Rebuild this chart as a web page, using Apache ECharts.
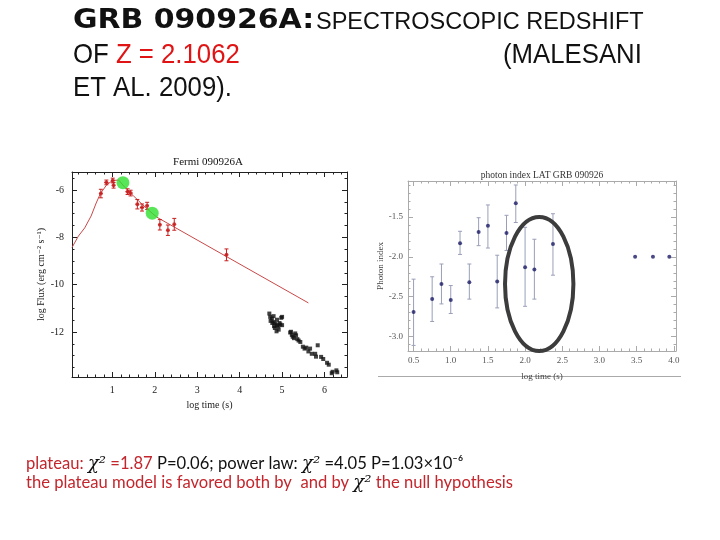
<!DOCTYPE html>
<html>
<head>
<meta charset="utf-8">
<script src="https://cdn.jsdelivr.net/npm/echarts@6/dist/echarts.min.js"></script>
</head>
<body style="margin:0;background:#fff">
<div id="main" style="width:720px;height:540px;"></div>
<script>
// ---- left panel: Fermi 090926A light curve ----
var fluxTime  = [0.73, 0.86, 1.01, 1.03, 1.36, 1.43, 1.59, 1.70, 1.82, 2.12, 2.31, 2.46, 3.69];
var fluxValue = [-6.15, -5.68, -5.60, -5.80, -6.07, -6.13, -6.60, -6.74, -6.67, -7.47, -7.70, -7.45, -8.74];
var fluxErr   = [0.18, 0.10, 0.10, 0.12, 0.12, 0.12, 0.20, 0.15, 0.15, 0.22, 0.22, 0.25, 0.25];
var timeErr   = [0.04, 0.05, 0.04, 0.04, 0.05, 0.05, 0.04, 0.05, 0.04, 0.04, 0.04, 0.03, 0.04];
var greenPts  = [[1.25, -5.69], [1.94, -6.98]];
var modelTime = [0.05, 0.2, 0.35, 0.5, 0.62, 0.72, 0.86, 1.0, 1.15, 1.3, 1.5, 1.7, 1.95, 2.05, 5.62];
var modelFlux = [-8.43, -7.95, -7.6, -7.1, -6.55, -6.15, -5.8, -5.6, -5.58, -5.9, -6.25, -6.6, -7.0, -7.15, -10.77];
var xrtPts = [
  [4.70,-11.22],[4.72,-11.36],[4.73,-11.53],[4.76,-11.43],[4.77,-11.62],[4.80,-11.57],[4.80,-11.33],
  [4.81,-11.75],[4.83,-11.83],[4.84,-11.64],[4.87,-11.97],[4.88,-11.71],[4.88,-11.48],[4.91,-11.76],
  [4.92,-11.90],[4.94,-11.62],[4.96,-11.68],[4.98,-11.40],[5.00,-11.71],[5.00,-11.36],[5.19,-12.02],
  [5.21,-11.99],[5.23,-12.12],[5.25,-12.20],[5.28,-12.26],[5.31,-12.06],[5.33,-12.14],[5.36,-12.30],
  [5.39,-12.36],[5.43,-12.42],[5.49,-12.62],[5.53,-12.70],[5.57,-12.66],[5.62,-12.82],[5.66,-12.70],
  [5.70,-12.92],[5.78,-12.92],[5.80,-13.04],[5.84,-12.56],[5.92,-13.05],[5.97,-13.14],[6.06,-13.30],
  [6.10,-13.38],[6.17,-13.74],[6.19,-13.68],[6.28,-13.62],[6.30,-13.70]
];

// ---- right panel: photon index LAT ----
var latTime  = [0.5, 0.75, 0.875, 1.0, 1.125, 1.25, 1.375, 1.5, 1.625, 1.75, 1.875, 2.0, 2.125, 2.375];
var latIndex = [-2.69, -2.53, -2.34, -2.54, -1.83, -2.32, -1.69, -1.61, -2.31, -1.70, -1.33, -2.13, -2.16, -1.84];
var latHi    = [-2.28, -2.25, -2.09, -2.36, -1.68, -2.09, -1.51, -1.35, -1.98, -1.48, -1.10, -1.63, -1.78, -1.46];
var latLo    = [-3.11, -2.81, -2.59, -2.71, -1.97, -2.53, -1.86, -1.89, -2.64, -1.92, -1.57, -2.62, -2.53, -2.23];
var lateTime  = [3.48, 3.72, 3.94];
var lateIndex = [-2.0, -2.0, -2.0];

var chart = echarts.init(document.getElementById('main'));

var serif = '"Liberation Serif", "DejaVu Serif", serif';

function frameAxis(grid, pos, min, max, split, color, labels, fmt) {
  return {
    type: 'value', gridIndex: grid, position: pos, min: min, max: max, splitNumber: split,
    axisLine: { onZero: false, lineStyle: { color: color, width: 1 } },
    axisTick: { inside: true, length: 5, lineStyle: { color: color } },
    minorTick: { show: true, splitNumber: 5, length: 2.5, lineStyle: { color: color } },
    splitLine: { show: false },
    axisLabel: {
      show: labels, showMinLabel: false, showMaxLabel: false,
      fontFamily: serif, fontSize: grid === 0 ? 10 : 9, color: grid === 0 ? '#222' : '#555',
      margin: grid === 0 ? 8 : 5, formatter: fmt
    }
  };
}

var x0 = frameAxis(0, 'bottom', 0.05, 6.53, 6, '#222', true);
x0.name = 'log time (s)'; x0.nameLocation = 'middle'; x0.nameGap = 23;
x0.nameTextStyle = { fontFamily: serif, fontSize: 10, color: '#222' };
var y0 = frameAxis(0, 'left', -13.9, -5.24, 4, '#222', true);
y0.minorTick.splitNumber = 4;
y0.name = 'log Flux (erg cm\u207B\u00B2 s\u207B\u00B9)'; y0.nameLocation = 'middle'; y0.nameGap = 22;
y0.nameTextStyle = { fontFamily: serif, fontSize: 10, color: '#222' };
var x2 = frameAxis(1, 'bottom', 0.425, 4.03, 7, '#aaa', true, function (v) { return v.toFixed(1); });
x2.name = 'log time (s)'; x2.nameLocation = 'middle'; x2.nameGap = 21;
x2.nameTextStyle = { fontFamily: serif, fontSize: 9, color: '#444' };
var y2 = frameAxis(1, 'left', -3.18, -1.05, 4, '#aaa', true, function (v) { return v.toFixed(1); });
y2.name = 'Photon index'; y2.nameLocation = 'middle'; y2.nameGap = 20;
y2.nameTextStyle = { fontFamily: serif, fontSize: 9, color: '#444' };

function errBars(color, cap) {
  return function (params, api) {
    var x = api.value(0), y = api.value(1), lo = api.value(2), hi = api.value(3);
    var xl = api.value(4), xr = api.value(5);
    var a = api.coord([x, hi]), b = api.coord([x, lo]);
    var st = { stroke: color, lineWidth: 1 };
    var kids = [
      { type: 'line', shape: { x1: a[0], y1: a[1], x2: b[0], y2: b[1] }, style: st },
      { type: 'line', shape: { x1: a[0] - cap, y1: a[1], x2: a[0] + cap, y2: a[1] }, style: st },
      { type: 'line', shape: { x1: b[0] - cap, y1: b[1], x2: b[0] + cap, y2: b[1] }, style: st }
    ];
    if (xl !== xr) {
      var l = api.coord([xl, y]), r = api.coord([xr, y]);
      kids.push({ type: 'line', shape: { x1: l[0], y1: l[1], x2: r[0], y2: r[1] }, style: st });
    }
    return { type: 'group', children: kids };
  };
}

var fluxBars = fluxTime.map(function (t, i) {
  return [t, fluxValue[i], fluxValue[i] - fluxErr[i], fluxValue[i] + fluxErr[i], t - timeErr[i], t + timeErr[i]];
});
var latBars = latTime.map(function (t, i) { return [t, latIndex[i], latLo[i], latHi[i], t, t]; });

chart.setOption({
  animation: false,
  title: [
    { text: 'Fermi 090926A', left: 208, top: 157, padding: 0, textAlign: 'center',
      textStyle: { fontFamily: serif, fontSize: 11, fontWeight: 'normal', color: '#111' } },
    { text: 'photon index LAT GRB 090926', left: 542, top: 170, padding: 0, textAlign: 'center',
      textStyle: { fontFamily: serif, fontSize: 9.5, fontWeight: 'normal', color: '#333' } }
  ],
  grid: [
    { left: 72, top: 172, width: 275, height: 205 },
    { left: 408, top: 181, width: 268, height: 170 }
  ],
  xAxis: [
    x0, frameAxis(0, 'top', 0.05, 6.53, 6, '#222', false),
    x2, frameAxis(1, 'top', 0.425, 4.03, 7, '#aaa', false)
  ],
  yAxis: [
    y0, (function () { var a = frameAxis(0, 'right', -13.9, -5.24, 4, '#222', false); a.minorTick.splitNumber = 4; return a; })(),
    y2, frameAxis(1, 'right', -3.18, -1.05, 4, '#aaa', false)
  ],
  series: [
    { type: 'line', xAxisIndex: 0, yAxisIndex: 0, data: modelTime.map(function (t, i) { return [t, modelFlux[i]]; }),
      symbol: 'none', lineStyle: { color: '#c84848', width: 1 }, z: 2 },
    { type: 'custom', xAxisIndex: 0, yAxisIndex: 0, data: fluxBars, renderItem: errBars('#c82020', 2), z: 3 },
    { type: 'scatter', xAxisIndex: 0, yAxisIndex: 0, data: fluxTime.map(function (t, i) { return [t, fluxValue[i]]; }),
      symbolSize: 4, itemStyle: { color: '#c81e1e' }, z: 4 },
    { type: 'scatter', xAxisIndex: 0, yAxisIndex: 0, data: greenPts, symbolSize: 13,
      itemStyle: { color: '#2ee02e' }, z: 5 },
    { type: 'scatter', xAxisIndex: 0, yAxisIndex: 0, data: xrtPts, symbol: 'rect', symbolSize: 4,
      itemStyle: { color: '#111' }, z: 4 },
    { type: 'custom', xAxisIndex: 2, yAxisIndex: 2, data: latBars, renderItem: errBars('#9a9fb8', 2), z: 3 },
    { type: 'scatter', xAxisIndex: 2, yAxisIndex: 2, data: latTime.map(function (t, i) { return [t, latIndex[i]]; }),
      symbolSize: 4, itemStyle: { color: '#1c1c66' }, z: 4 },
    { type: 'scatter', xAxisIndex: 2, yAxisIndex: 2, data: lateTime.map(function (t, i) { return [t, lateIndex[i]]; }),
      symbolSize: 4, itemStyle: { color: '#1c1c66' }, z: 4 }
  ]
});

// ellipse around the late LAT points, placed in data space
var c = chart.convertToPixel({ xAxisIndex: 2, yAxisIndex: 2 }, [2.19, -2.34]);
var e = chart.convertToPixel({ xAxisIndex: 2, yAxisIndex: 2 }, [2.65, -3.18]);

var red = '#e01414';
var red2 = '#c3262c';
var chi = { fontFamily: '"DejaVu Serif", serif', fontStyle: 'italic', fontSize: 18, fill: '#111' };
var calib = '"Lato", "Open Sans", sans-serif';

chart.setOption({
  graphic: [
    { type: 'ellipse', shape: { cx: c[0], cy: c[1], rx: e[0] - c[0], ry: e[1] - c[1] },
      style: { fill: null, stroke: '#3c3c3c', lineWidth: 4 }, z: 10 },
    { type: 'line', shape: { x1: 378, y1: 376.5, x2: 681, y2: 376.5 }, style: { stroke: '#aaa', lineWidth: 1 } },
    { type: 'text', x: 73, y: 21, scaleX: 1.15,
      style: { text: 'GRB 090926A:', font: 'bold 26px "DejaVu Sans"', fill: '#111', verticalAlign: 'middle' } },
    { type: 'text', x: 316, y: 23,
      style: { text: 'SPECTROSCOPIC REDSHIFT', font: '23.5px "Liberation Sans"', fill: '#111', verticalAlign: 'middle' } },
    { type: 'text', x: 73, y: 55, scaleX: 0.92,
      style: { text: '{k|OF }{r|Z = 2.1062}', font: '28px "Liberation Sans"', verticalAlign: 'middle',
        rich: { k: { fill: '#111', font: '28px "Liberation Sans"' }, r: { fill: red, font: '28px "Liberation Sans"' } } } },
    { type: 'text', x: 503, y: 55, scaleX: 0.92,
      style: { text: '(MALESANI', font: '28px "Liberation Sans"', fill: '#111', verticalAlign: 'middle' } },
    { type: 'text', x: 73, y: 88.5, scaleX: 0.92,
      style: { text: 'ET AL. 2009).', font: '28px "Liberation Sans"', fill: '#111', verticalAlign: 'middle' } },
    { type: 'text', x: 26, y: 464,
      style: {
        text: '{r|plateau: }{c|\u03C7\u00B2}{r| =1.87}{k| P=0.06; power law: }{c|\u03C7\u00B2}{k| =4.05 P=1.03\u00D710\u207B\u2076}',
        verticalAlign: 'middle',
        rich: {
          r: { fill: red2, fontFamily: calib, fontSize: 16.6 },
          k: { fill: '#111', fontFamily: calib, fontSize: 16.6 },
          c: chi
        }
      } },
    { type: 'text', x: 26, y: 483,
      style: {
        text: '{r|the plateau model is favored both by  and by }{c|\u03C7\u00B2}{r| the null hypothesis}',
        verticalAlign: 'middle',
        rich: {
          r: { fill: red2, fontFamily: calib, fontSize: 16.6 },
          c: chi
        }
      } }
  ]
});
</script>
</body>
</html>
